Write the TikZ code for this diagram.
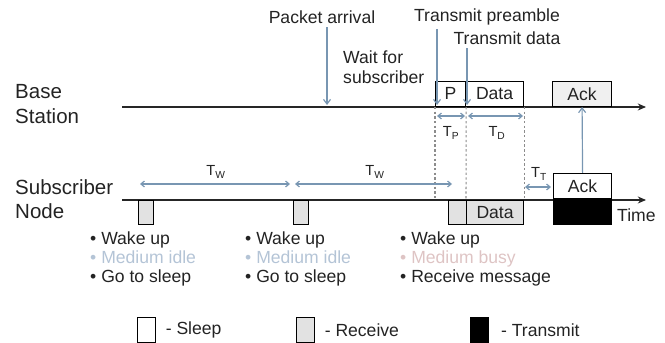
\documentclass[tikz,border=0pt]{standalone}
\usepackage{fontspec}
\setmainfont{Liberation Sans}
\usetikzlibrary{arrows.meta,positioning}

\definecolor{arrowblue}{RGB}{120,150,178}
\definecolor{idleblue}{RGB}{180,196,214}
\definecolor{busypink}{RGB}{222,196,196}
\definecolor{rxgray}{RGB}{226,226,226}
\definecolor{txtgray}{RGB}{35,35,35}

\tikzset{
  lbl/.style={font=\fontsize{15}{17}\selectfont, text=txtgray, inner sep=0pt},
  biglbl/.style={font=\fontsize{17.5}{21}\selectfont, text=txtgray, align=left, inner sep=0pt},
  tlbl/.style={font=\fontsize{12.5}{14}\selectfont, text=txtgray, inner sep=0pt},
  slot/.style={draw=black, line width=1pt, minimum width=#1, minimum height=0.75cm,
    inner sep=0pt, font=\fontsize{15}{17}\selectfont, text=txtgray},
  rx/.style={fill=rxgray},
  tx/.style={fill=black},
  key/.style={draw=black, line width=1pt, minimum width=0.54cm, minimum height=0.75cm,
    inner sep=0pt, anchor=north west},
  timeline/.style={line width=1.6pt, draw=black!85, -{Stealth[length=7pt,width=6pt]}},
  event/.style={line width=1pt, draw=arrowblue, -{Straight Barb[length=4pt,width=6pt]}},
  span/.style={line width=1pt, draw=arrowblue,
    {Straight Barb[length=3pt,width=5pt]}-{Straight Barb[length=3pt,width=5pt]}},
  guide/.style={line width=0.9pt, draw=black!45, dash pattern=on 2pt off 2pt},
  bullets/.style={font=\fontsize{15}{16.6}\selectfont, text=txtgray, align=left,
    inner sep=0pt, anchor=west}
}

\begin{document}
\begin{tikzpicture}[x=0.03cm,y=-0.03cm]
    \useasboundingbox (0,0) rectangle (665,343);

    % Time lines
    \coordinate (bsStart) at (122,107);
    \coordinate (bsEnd) at (646,107);
    \coordinate (snStart) at (122,200);
    \coordinate (snEnd) at (646,200);
    \draw[timeline] (bsStart) -- (bsEnd);
    \draw[timeline] (snStart) -- (snEnd);
    \node[biglbl, anchor=west] (bsName) at (15,104) {Base\\Station};
    \node[biglbl, anchor=west] (snName) at (15,199) {Subscriber\\Node};
    \node[lbl, anchor=west] (time) at (617,215) {Time};

    % Base station slots
    \node[slot=0.9cm, anchor=south west] (pre) at (435,107) {P};
    \node[slot=1.74cm, anchor=south west] (bsData) at (465,107) {Data};
    \node[slot=1.77cm, anchor=south west, fill=black!6] (bsAck) at (552,107) {Ack};

    % Subscriber slots
    \node[slot=0.45cm, rx, minimum height=0.72cm, anchor=north west] (poll1) at (138,200) {};
    \node[slot=0.45cm, rx, minimum height=0.72cm, anchor=north west] (poll2) at (293,200) {};
    \node[slot=0.54cm, rx, minimum height=0.72cm, anchor=north west] (poll3) at (448,200) {};
    \node[slot=1.71cm, rx, minimum height=0.72cm, anchor=north west] (snData) at (466,200) {Data};
    \node[slot=1.74cm, anchor=south west] (snAck) at (553,199) {Ack};
    \node[slot=1.74cm, tx, anchor=north west] (snTx) at (553,199) {};

    % Events
    \node[lbl] (arrival) at (322,17) {Packet arrival};
    \node[lbl] (txPre) at (487,17) {Transmit preamble};
    \node[lbl] (txData) at (507,38) {Transmit data};
    \node[lbl, align=left, anchor=west] (wait) at (343,67) {Wait for\\subscriber};
    \coordinate (pa) at (327,105);
    \coordinate (tp) at (437,105);
    \coordinate (td) at (467,105);
    \draw[event] ([yshift=-3pt]arrival.south -| pa) -- (pa);
    \draw[event] ([yshift=-3pt]txPre.south -| tp) -- (tp);
    \draw[event] ([yshift=-3pt]txData.south -| td) -- (td);
    \draw[event] (snAck.north) -- (bsAck.south);

    % Guides
    \draw[guide] (pre.south west) -- (pre.south west |- snStart);
    \draw[guide] (pre.south east) -- (snData.north west);
    \draw[guide] (bsData.south east) -- (snData.north east);

    % Durations
    \coordinate (tpA) at (437,116);
    \coordinate (tpB) at (465,116);
    \coordinate (tdA) at (468,116);
    \coordinate (tdB) at (523,116);
    \draw[span] (tpA) -- (tpB);
    \draw[span] (tdA) -- (tdB);
    \node[tlbl] (tpLbl) at (451,133) {T\textsubscript{P}};
    \node[tlbl] (tdLbl) at (497,133) {T\textsubscript{D}};

    \coordinate (w1A) at (140,184);
    \coordinate (w1B) at (290,184);
    \coordinate (w2A) at (295,184);
    \coordinate (w2B) at (452,184);
    \draw[span] (w1A) -- (w1B);
    \draw[span] (w2A) -- (w2B);
    \node[tlbl] (w1Lbl) at (216,172) {T\textsubscript{W}};
    \node[tlbl] (w2Lbl) at (375,172) {T\textsubscript{W}};

    \coordinate (ttA) at (525,187);
    \coordinate (ttB) at (551,187);
    \draw[span] (ttA) -- (ttB);
    \node[tlbl] (ttLbl) at (539,174) {T\textsubscript{T}};

    % What the node does
    \node[bullets] (do1) at (90,259) {\textbullet\ Wake up\\
      \textcolor{idleblue}{\textbullet\ Medium idle}\\ \textbullet\ Go to sleep};
    \node[bullets] (do2) at (245,259) {\textbullet\ Wake up\\
      \textcolor{idleblue}{\textbullet\ Medium idle}\\ \textbullet\ Go to sleep};
    \node[bullets] (do3) at (400,259) {\textbullet\ Wake up\\
      \textcolor{busypink}{\textbullet\ Medium busy}\\ \textbullet\ Receive message};

    % Legend
    \node[key] (keySleep) at (137,317) {};
    \node[lbl, right=8pt of keySleep] (keySleepTxt) {- Sleep};
    \node[key, rx] (keyRx) at (296,317) {};
    \node[lbl, right=8pt of keyRx] (keyRxTxt) {- Receive};
    \node[key, tx] (keyTx) at (470,317) {};
    \node[lbl, right=10pt of keyTx] (keyTxTxt) {- Transmit};
\end{tikzpicture}
\end{document}
